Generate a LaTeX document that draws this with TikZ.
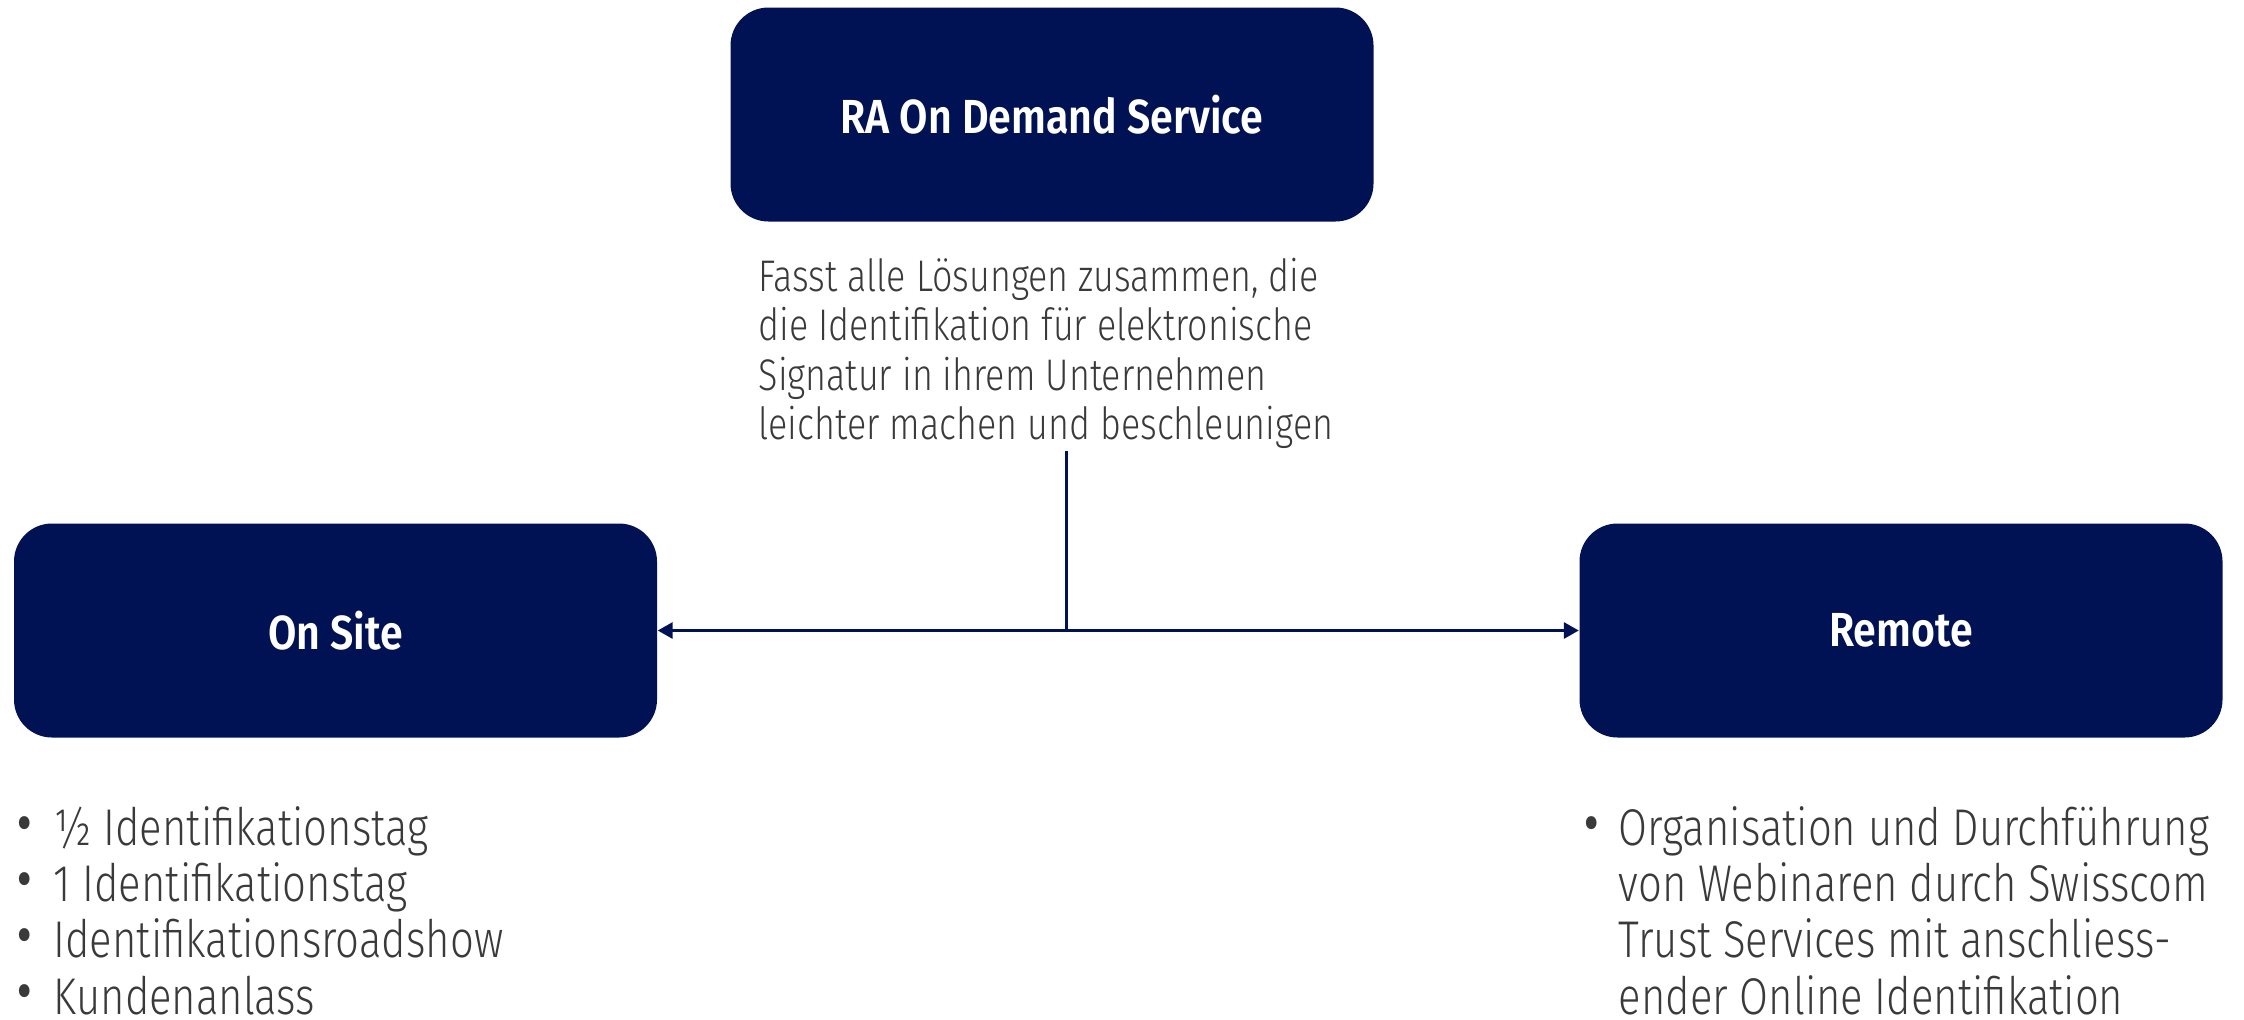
\documentclass[tikz,border=0pt]{standalone}
\usepackage{fontspec}
\setmainfont{Fira Sans}[UprightFont={* Light}, BoldFont={* SemiBold}, FakeStretch=0.86]
\newfontfamily\lightfont{Fira Sans}[UprightFont={* Light}, FakeStretch=0.81]
\usepackage{tikz}
\usetikzlibrary{positioning}
\usetikzlibrary{arrows.meta}
\definecolor{navy}{RGB}{1,18,84}
\definecolor{txtgray}{RGB}{58,58,58}
\newcommand{\dotmark}{\makebox[0pt][l]{\raisebox{-2.2pt}{\fontsize{25}{25}\selectfont\textbullet}}}

\begin{document}
\begin{tikzpicture}[
        block/.style={fill=navy, rounded corners=0.38cm, minimum width=6.43cm, minimum height=2.14cm,
                      text=white, font=\fontsize{13.6}{16}\bfseries\selectfont, inner sep=0pt},
        desctext/.style={text=txtgray, font=\lightfont\fontsize{12.6}{14.1}\selectfont, inner sep=0pt, anchor=base west},
        listtext/.style={text=txtgray, font=\lightfont\fontsize{14.7}{16}\selectfont, inner sep=0pt, anchor=base west},
        link/.style={draw=navy, line width=0.85pt},
        tip/.style={-{Triangle[length=0.15cm, width=0.16cm]}}
    ]
                    \useasboundingbox (0,0) rectangle (22.44,-10.19);
                    \node[block] (service) at (10.52,-1.145) {RA On Demand Service};   %top
                    \node[block] (onsite) at (3.355,-6.305) {On Site};     %left
                    \node[block] (remote) at (19.01,-6.305) {Remote};     %right
                    \node[desctext] (desc) at (7.58,-2.91) {\begin{tabular}[t]{@{}l@{}}
                        Fasst alle Lösungen zusammen, die\\
                        die Identifikation für elektronische\\
                        Signatur in ihrem Unternehmen\\
                        leichter machen und beschleunigen\end{tabular}};
                    \node[listtext] (sitelist) at (0.14,-8.455) {\begin{tabular}[t]{@{}p{0.39cm}@{}l@{}}
                        \dotmark & ½ Identifikationstag\\
                        \dotmark & 1 Identifikationstag\\
                        \dotmark & Identifikationsroadshow\\
                        \dotmark & Kundenanlass\end{tabular}};
                    \node[listtext] (remotelist) at (15.81,-8.455) {\begin{tabular}[t]{@{}p{0.37cm}@{}l@{}}
                        \dotmark & Organisation und Durchführung\\
                                 & von Webinaren durch Swisscom\\
                                 & Trust Services mit anschliess-\\
                                 & ender Online Identifikation\end{tabular}};
                    \coordinate (stem) at (10.66,-4.51);   %below text
                    \coordinate (hub) at (stem |- onsite.east);
                    \draw[link] (stem) -- (hub);
                    \draw[link, tip] (hub) -- (onsite.east);
                    \draw[link, tip] (hub) -- (remote.west);
                \end{tikzpicture}
\end{document}
